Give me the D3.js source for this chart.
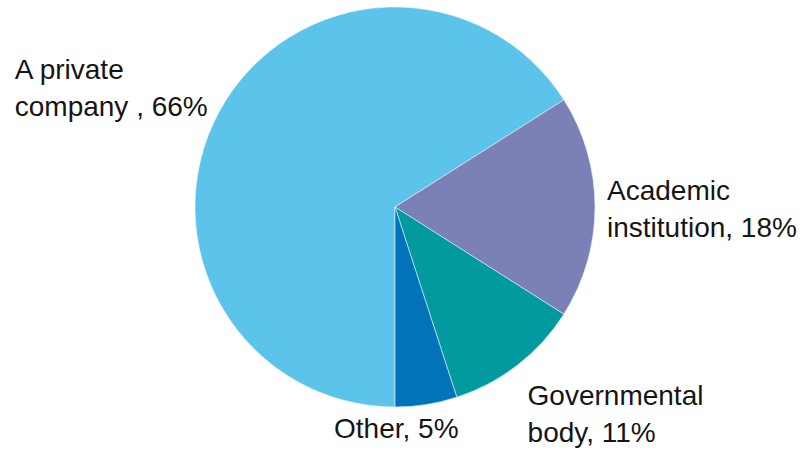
<!DOCTYPE html>
<html>
<head>
<meta charset="utf-8">
<script src="https://cdn.jsdelivr.net/npm/d3@7"></script>
<style>
  html, body { margin: 0; padding: 0; background: #ffffff; }
  svg { display: block; }
  text { font-family: "Liberation Sans", Arial, sans-serif; fill: #151515; }
</style>
</head>
<body>
<svg id="chart" width="805" height="452"></svg>
<script>
// Organisation type shares (percent)
const categories = ["A private company", "Academic institution", "Governmental body", "Other"];
const shares = [66, 18, 11, 5];
// Label text lines for each slice
const labelLines = [
  ["A private", "company , 66%"],
  ["Academic", "institution, 18%"],
  ["Governmental", "body, 11%"],
  ["Other, 5%"]
];
const sliceColors = ["#5cc4eb", "#7b80b7", "#009a9f", "#0073b9"];

const width = 805, height = 452;
const cx = 395, cy = 207, radius = 200;
const fontSize = 28, lineGap = 37;

const svg = d3.select("#chart");
const g = svg.append("g").attr("transform", `translate(${cx},${cy})`);

const data = categories.map((c, i) => ({ name: c, value: shares[i], lines: labelLines[i], color: sliceColors[i] }));

// Slices start at 6 o'clock and run clockwise
const pie = d3.pie().value(d => d.value).sort(null)
  .startAngle(Math.PI).endAngle(3 * Math.PI);
const arcs = pie(data);
const arc = d3.arc().innerRadius(0).outerRadius(radius);

g.selectAll("path.slice")
  .data(arcs)
  .join("path")
  .attr("class", "slice")
  .attr("d", arc)
  .attr("fill", d => d.data.color)
  .attr("stroke", "#e8f4f8")
  .attr("stroke-width", 0.6);

// Label placement relative to the outer point of each slice's mid-angle
const outer = d3.arc().innerRadius(radius).outerRadius(radius);
const labelPlacement = [
  { anchor: "start", dx: -205, dy: -32 },   // private company: block to the upper left
  { anchor: "start", dx: 12, dy: -7 },      // academic: block to the right
  { anchor: "start", dx: 10, dy: 40 },      // governmental: below right
  { anchor: "middle", dx: -30, dy: 33 }     // other: below
];

arcs.forEach((a, i) => {
  const [px, py] = outer.centroid(a);
  const p = labelPlacement[i];
  const t = g.append("text")
    .attr("text-anchor", p.anchor)
    .attr("font-size", fontSize)
    .attr("x", px + p.dx)
    .attr("y", py + p.dy);
  a.data.lines.forEach((line, k) => {
    t.append("tspan")
      .attr("x", px + p.dx)
      .attr("y", py + p.dy + k * lineGap)
      .text(line);
  });
});
</script>
</body>
</html>
